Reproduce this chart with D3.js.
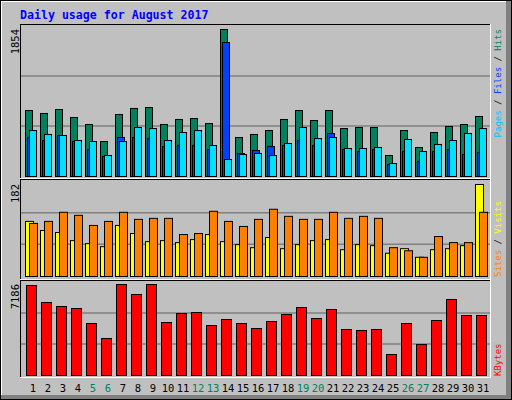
<!DOCTYPE html>
<html><head><meta charset="utf-8">
<script src="https://cdn.jsdelivr.net/npm/d3@7"></script>
<style>body{margin:0;background:#fff}</style></head>
<body><svg id="c" width="512" height="400"></svg>
<script>
const days = d3.range(1,32);
const weekend = [5,6,12,13,19,20,26,27];
const hits = [832,795,845,744,656,441,782,858,870,656,719,731,668,1854,492,530,580,719,832,706,832,605,618,618,265,580,366,555,631,656,757];
const files = [492,454,517,441,340,252,492,492,479,378,391,391,340,1690,290,328,378,391,454,391,542,340,315,340,151,315,189,315,340,277,303];
const pages = [580,530,517,454,441,265,441,618,605,454,555,580,391,214,277,290,265,416,618,479,492,353,353,366,164,467,315,404,454,542,605];
const visits = [109,91,87,71,65,59,101,85,69,71,67,73,83,69,63,57,77,55,63,71,73,53,63,61,46,55,38,53,55,61,182];
const sites = [105,109,127,121,101,109,127,113,115,115,83,85,129,109,99,113,133,119,113,113,127,115,119,115,57,51,38,79,67,67,127];
const kbytes = [7107,5765,5449,5291,4106,2922,7186,6396,7186,4185,4896,4975,3948,4422,4106,3711,4264,4817,5370,4501,5212,3632,3554,3632,1658,4106,2448,4343,6001,4738,4738];
const maxLabels = ["1854","182","7186"];

const svg = d3.select("#c");
const font = "DejaVu Sans Mono, monospace";
svg.append("rect").attr("x",0).attr("y",0).attr("width",512).attr("height",400).attr("fill","#000");
svg.append("rect").attr("x",1).attr("y",1).attr("width",510).attr("height",398).attr("fill","#808080");
svg.append("rect").attr("x",1).attr("y",1).attr("width",505).attr("height",394).attr("fill","#fff");
svg.append("rect").attr("x",2).attr("y",2).attr("width",504).attr("height",393).attr("fill","#c0c0c0");

svg.append("text").attr("x",20).attr("y",19).attr("fill","#0000ff").attr("font-family",font)
  .attr("font-size",11.6).attr("font-weight","bold").text("Daily usage for August 2017");

const x = d3.scaleLinear().domain([1,31]).range([25,475]);

function panel(y0,y1){
  svg.append("rect").attr("x",20).attr("y",y0).attr("width",471).attr("height",y1-y0).attr("fill","#fff");
  svg.append("rect").attr("x",20).attr("y",y0).attr("width",470).attr("height",y1-y0-1).attr("fill","#000");
  svg.append("rect").attr("x",21).attr("y",y0+1).attr("width",469).attr("height",y1-y0-2).attr("fill","#c0c0c0");
}
function grid(bottom,h){
  [1,2].forEach(k=>svg.append("line").attr("x1",21).attr("x2",490)
    .attr("y1",bottom-h*k/3).attr("y2",bottom-h*k/3).attr("stroke","#808080").attr("stroke-width",1.5));
}
function bars(data,y,off,w,color){
  svg.append("g").selectAll("rect").data(data).join("rect")
   .attr("x",(d,i)=>x(i+1)+off+0.5).attr("y",d=>y(d)+0.5)
   .attr("width",w).attr("height",d=>y(0)-y(d)).attr("fill",color)
   .attr("stroke","#000").attr("stroke-width",1);
}
function ylab(txt,xx,yy){
  svg.append("text").attr("transform",`translate(${xx},${yy}) rotate(-90)`).attr("text-anchor","end")
   .attr("font-family",font).attr("font-size",10.5).attr("fill","#000").text(txt);
}
function rlab(parts,xx,yy,anchor){
  const t=svg.append("text").attr("transform",`translate(${xx},${yy}) rotate(-90)`).attr("text-anchor",anchor)
   .attr("font-family",font).attr("font-size",9);
  parts.forEach(p=>t.append("tspan").attr("fill",p[1]).text(p[0]));
}

panel(24,179);
const y1 = d3.scaleLinear().domain([0,1854]).range([176,29]);
grid(176,150);
bars(hits,y1,0,7,"#00805c");
bars(files,y1,2,7,"#0040ff");
bars(pages,y1,4,7,"#00e0ff");
ylab(maxLabels[0],19,29);
rlab([["Pages","#00c0ff"],[" / ","#000"],["Files","#0040ff"],[" / ","#000"],["Hits","#00805c"]],501,29,"end");

panel(179,280);
const y2 = d3.scaleLinear().domain([0,182]).range([276,184]);
grid(276,95);
bars(visits,y2,0,8,"#ffff00");
bars(sites,y2,4,8,"#ff8000");
ylab(maxLabels[1],19,184);
rlab([["Sites","#ff8000"],[" / ","#000"],["Visits","#ffff00"]],501,277,"start");

panel(280,378);
const y3 = d3.scaleLinear().domain([0,7186]).range([375,284]);
grid(375,93);
bars(kbytes,y3,1,10,"#ff0000");
ylab(maxLabels[2],19,284);
rlab([["KBytes","#ff0000"]],501,376,"start");

svg.append("g").selectAll("text").data(days).join("text")
 .attr("x",d=>x(d)+8).attr("y",392).attr("text-anchor","middle")
 .attr("font-family",font).attr("font-size",10.5)
 .attr("fill",d=>weekend.includes(d)?"#00805c":"#000").text(d=>d);
</script></body></html>
